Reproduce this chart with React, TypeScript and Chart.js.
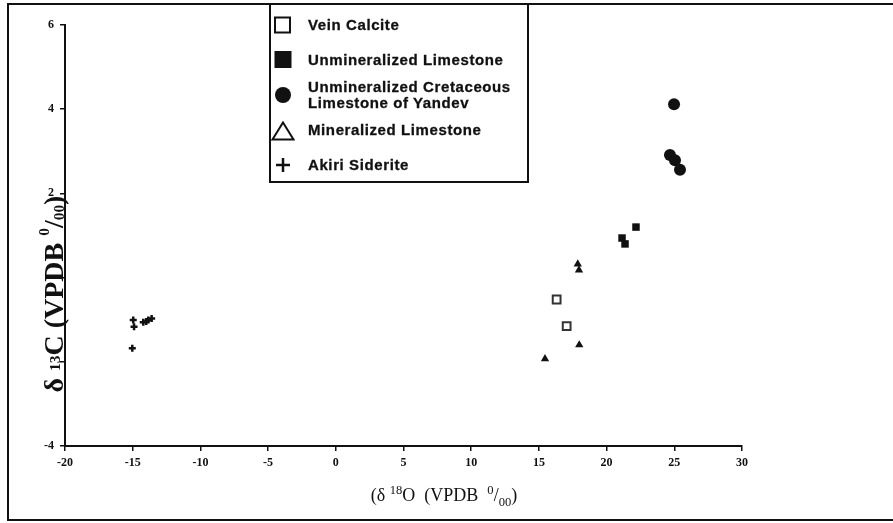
import React, { useEffect, useRef } from "react";
import { Chart, registerables } from "chart.js";

Chart.register(...registerables);

// ---- Data ----
const xMin = -20;
const xMax = 30;
const xStep = 5;
const yMin = -4;
const yMax = 6;
const yStep = 2;
const yLabelledTicks = [6, 4, 2, -4];

const veinCalciteX = [16.31, 17.05];
const veinCalciteY = [-0.52, -1.15];

const unminLimestoneX = [22.17, 21.14, 21.36];
const unminLimestoneY = [1.2, 0.94, 0.8];

const cretaceousX = [24.98, 24.68, 25.05, 25.42];
const cretaceousY = [4.12, 2.91, 2.79, 2.56];

const mineralizedX = [17.87, 17.96, 17.98, 15.45];
const mineralizedY = [0.32, 0.18, -1.6, -1.93];

const sideriteX = [-14.96, -14.9, -14.22, -14.0, -13.85, -13.6, -15.03];
const sideriteY = [-1.01, -1.17, -1.06, -1.04, -1.01, -0.97, -1.68];

const seriesLabels = [
  "Vein Calcite",
  "Unmineralized Limestone",
  "Unmineralized Cretaceous Limestone of Yandev",
  "Mineralized Limestone",
  "Akiri Siderite",
];

const toPoints = (xs: number[], ys: number[]) => xs.map((x, i) => ({ x, y: ys[i] }));

const INK = "#111";

export default function App() {
  const canvasRef = useRef<HTMLCanvasElement | null>(null);

  useEffect(() => {
    if (!canvasRef.current) return;
    const chart = new Chart(canvasRef.current, {
      type: "scatter",
      data: {
        datasets: [
          {
            label: seriesLabels[0],
            data: toPoints(veinCalciteX, veinCalciteY),
            pointStyle: "rect",
            pointRadius: 5.5,
            pointBorderWidth: 2,
            pointBackgroundColor: "#fff",
            pointBorderColor: "#333",
          },
          {
            label: seriesLabels[1],
            data: toPoints(unminLimestoneX, unminLimestoneY),
            pointStyle: "rect",
            pointRadius: 5.3,
            pointBorderWidth: 0,
            pointBackgroundColor: INK,
            pointBorderColor: INK,
          },
          {
            label: seriesLabels[2],
            data: toPoints(cretaceousX, cretaceousY),
            pointStyle: "circle",
            pointRadius: 6,
            pointBorderWidth: 0,
            pointBackgroundColor: INK,
            pointBorderColor: INK,
          },
          {
            label: seriesLabels[3],
            data: toPoints(mineralizedX, mineralizedY),
            pointStyle: "triangle",
            pointRadius: 4.8,
            pointBorderWidth: 0,
            pointBackgroundColor: INK,
            pointBorderColor: INK,
          },
          {
            label: seriesLabels[4],
            data: toPoints(sideriteX, sideriteY),
            pointStyle: "cross",
            pointRadius: 3.5,
            pointBorderWidth: 2.5,
            pointBackgroundColor: INK,
            pointBorderColor: INK,
          },
        ],
      },
      options: {
        animation: false,
        responsive: false,
        devicePixelRatio: 1,
        events: [],
        layout: { padding: { left: 0, top: 25, right: 151, bottom: 0 } },
        plugins: {
          legend: { display: false },
          tooltip: { enabled: false },
          title: { display: false },
        },
        scales: {
          x: {
            type: "linear",
            min: xMin,
            max: xMax,
            afterFit: (scale: any) => {
              scale.height = 77;
            },
            ticks: {
              stepSize: xStep,
              color: INK,
              padding: 5,
              font: { family: "'Liberation Serif', serif", size: 12, weight: "bold" },
            },
            grid: {
              display: true,
              drawOnChartArea: false,
              drawTicks: true,
              tickLength: 5,
              color: INK,
              lineWidth: 1.5,
            },
            border: { display: true, color: INK, width: 2 },
          },
          y: {
            type: "linear",
            min: yMin,
            max: yMax,
            afterFit: (scale: any) => {
              scale.width = 65;
            },
            ticks: {
              stepSize: yStep,
              color: INK,
              padding: 6,
              font: { family: "'Liberation Serif', serif", size: 12, weight: "bold" },
              callback: (v: any) => (yLabelledTicks.includes(Number(v)) ? String(v) : ""),
            },
            grid: {
              display: true,
              drawOnChartArea: false,
              drawTicks: true,
              tickLength: 5,
              color: INK,
              lineWidth: 1.5,
            },
            border: { display: true, color: INK, width: 2 },
          },
        },
      },
    } as any);
    return () => chart.destroy();
  }, []);

  const legendText: React.CSSProperties = {
    position: "absolute",
    left: 308,
    font: "bold 15px 'Liberation Sans', Arial, sans-serif",
    letterSpacing: "0.6px",
    color: INK,
    whiteSpace: "nowrap",
    lineHeight: "16px",
    WebkitTextStroke: "0.3px #111",
  };
  const marker = (cy: number, h: number, child: React.ReactNode, w = 24) => (
    <svg
      style={{ position: "absolute", left: 283 - w / 2, top: cy - h / 2 }}
      width={w}
      height={h}
    >
      {child}
    </svg>
  );

  return (
    <div
      style={{
        position: "fixed",
        left: 0,
        top: 0,
        width: 893,
        height: 523,
        background: "#fff",
        overflow: "hidden",
      }}
    >
      <canvas
        ref={canvasRef}
        width={893}
        height={523}
        style={{ position: "absolute", left: 0, top: 0, width: 893, height: 523, display: "block" }}
      />
      {/* outer frame */}
      <div
        style={{
          position: "absolute",
          left: 7,
          top: 3,
          width: 895,
          height: 514,
          border: `2px solid ${INK}`,
          pointerEvents: "none",
        }}
      />
      {/* y axis title */}
      <div
        style={{
          position: "absolute",
          left: 53 - 150,
          top: 294 - 15,
          width: 300,
          height: 30,
          lineHeight: "30px",
          textAlign: "center",
          transform: "rotate(-90deg)",
          font: "bold 28px 'Liberation Serif', 'Times New Roman', serif",
          color: INK,
          whiteSpace: "nowrap",
        }}
      >
        δ <span style={{ fontSize: "0.55em", verticalAlign: "3px", lineHeight: 0 }}>13</span>C (VPDB{" "}
        <span style={{ fontSize: "0.55em", verticalAlign: "14px", lineHeight: 0 }}>0</span>/
        <span style={{ fontSize: "0.55em", verticalAlign: "-1px", lineHeight: 0 }}>00</span>)
      </div>
      {/* x axis title */}
      <div
        style={{
          position: "absolute",
          left: 444 - 150,
          top: 497 - 12,
          width: 300,
          height: 24,
          lineHeight: "24px",
          textAlign: "center",
          font: "18px 'Liberation Serif', 'Times New Roman', serif",
          color: INK,
          whiteSpace: "pre",
        }}
      >
        (δ <sup style={{ fontSize: "0.7em", lineHeight: 0 }}>18</sup>O  (VPDB{"  "}
        <sup style={{ fontSize: "0.7em", lineHeight: 0 }}>0</sup>/
        <sub style={{ fontSize: "0.7em", lineHeight: 0 }}>00</sub>)
      </div>
      {/* legend */}
      <div
        style={{
          position: "absolute",
          left: 269,
          top: 3,
          width: 256,
          height: 176,
          border: `2px solid ${INK}`,
          background: "#fff",
        }}
      />
      {marker(25, 18, <rect x={4} y={1.5} width={15} height={15} fill="#fff" stroke={INK} strokeWidth={2} />)}
      <div style={{ ...legendText, top: 25 - 8 }}>{seriesLabels[0]}</div>
      {marker(59, 18, <rect x={3.5} y={1} width={17} height={17} fill={INK} />)}
      <div style={{ ...legendText, top: 60 - 8 }}>{seriesLabels[1]}</div>
      {marker(95, 18, <circle cx={12} cy={9} r={8} fill={INK} />)}
      <div style={{ ...legendText, top: 87 - 8 }}>
        Unmineralized Cretaceous
        <br />
        Limestone of Yandev
      </div>
      {marker(131, 20, <polygon points="12,1.5 22.5,18.5 1.5,18.5" fill="#fff" stroke={INK} strokeWidth={2} />)}
      <div style={{ ...legendText, top: 130 - 8 }}>{seriesLabels[3]}</div>
      {marker(
        165,
        16,
        <g stroke={INK} strokeWidth={2.5}>
          <line x1={12} y1={1} x2={12} y2={15} />
          <line x1={5} y1={8} x2={19} y2={8} />
        </g>
      )}
      <div style={{ ...legendText, top: 165 - 8 }}>{seriesLabels[4]}</div>
    </div>
  );
}
